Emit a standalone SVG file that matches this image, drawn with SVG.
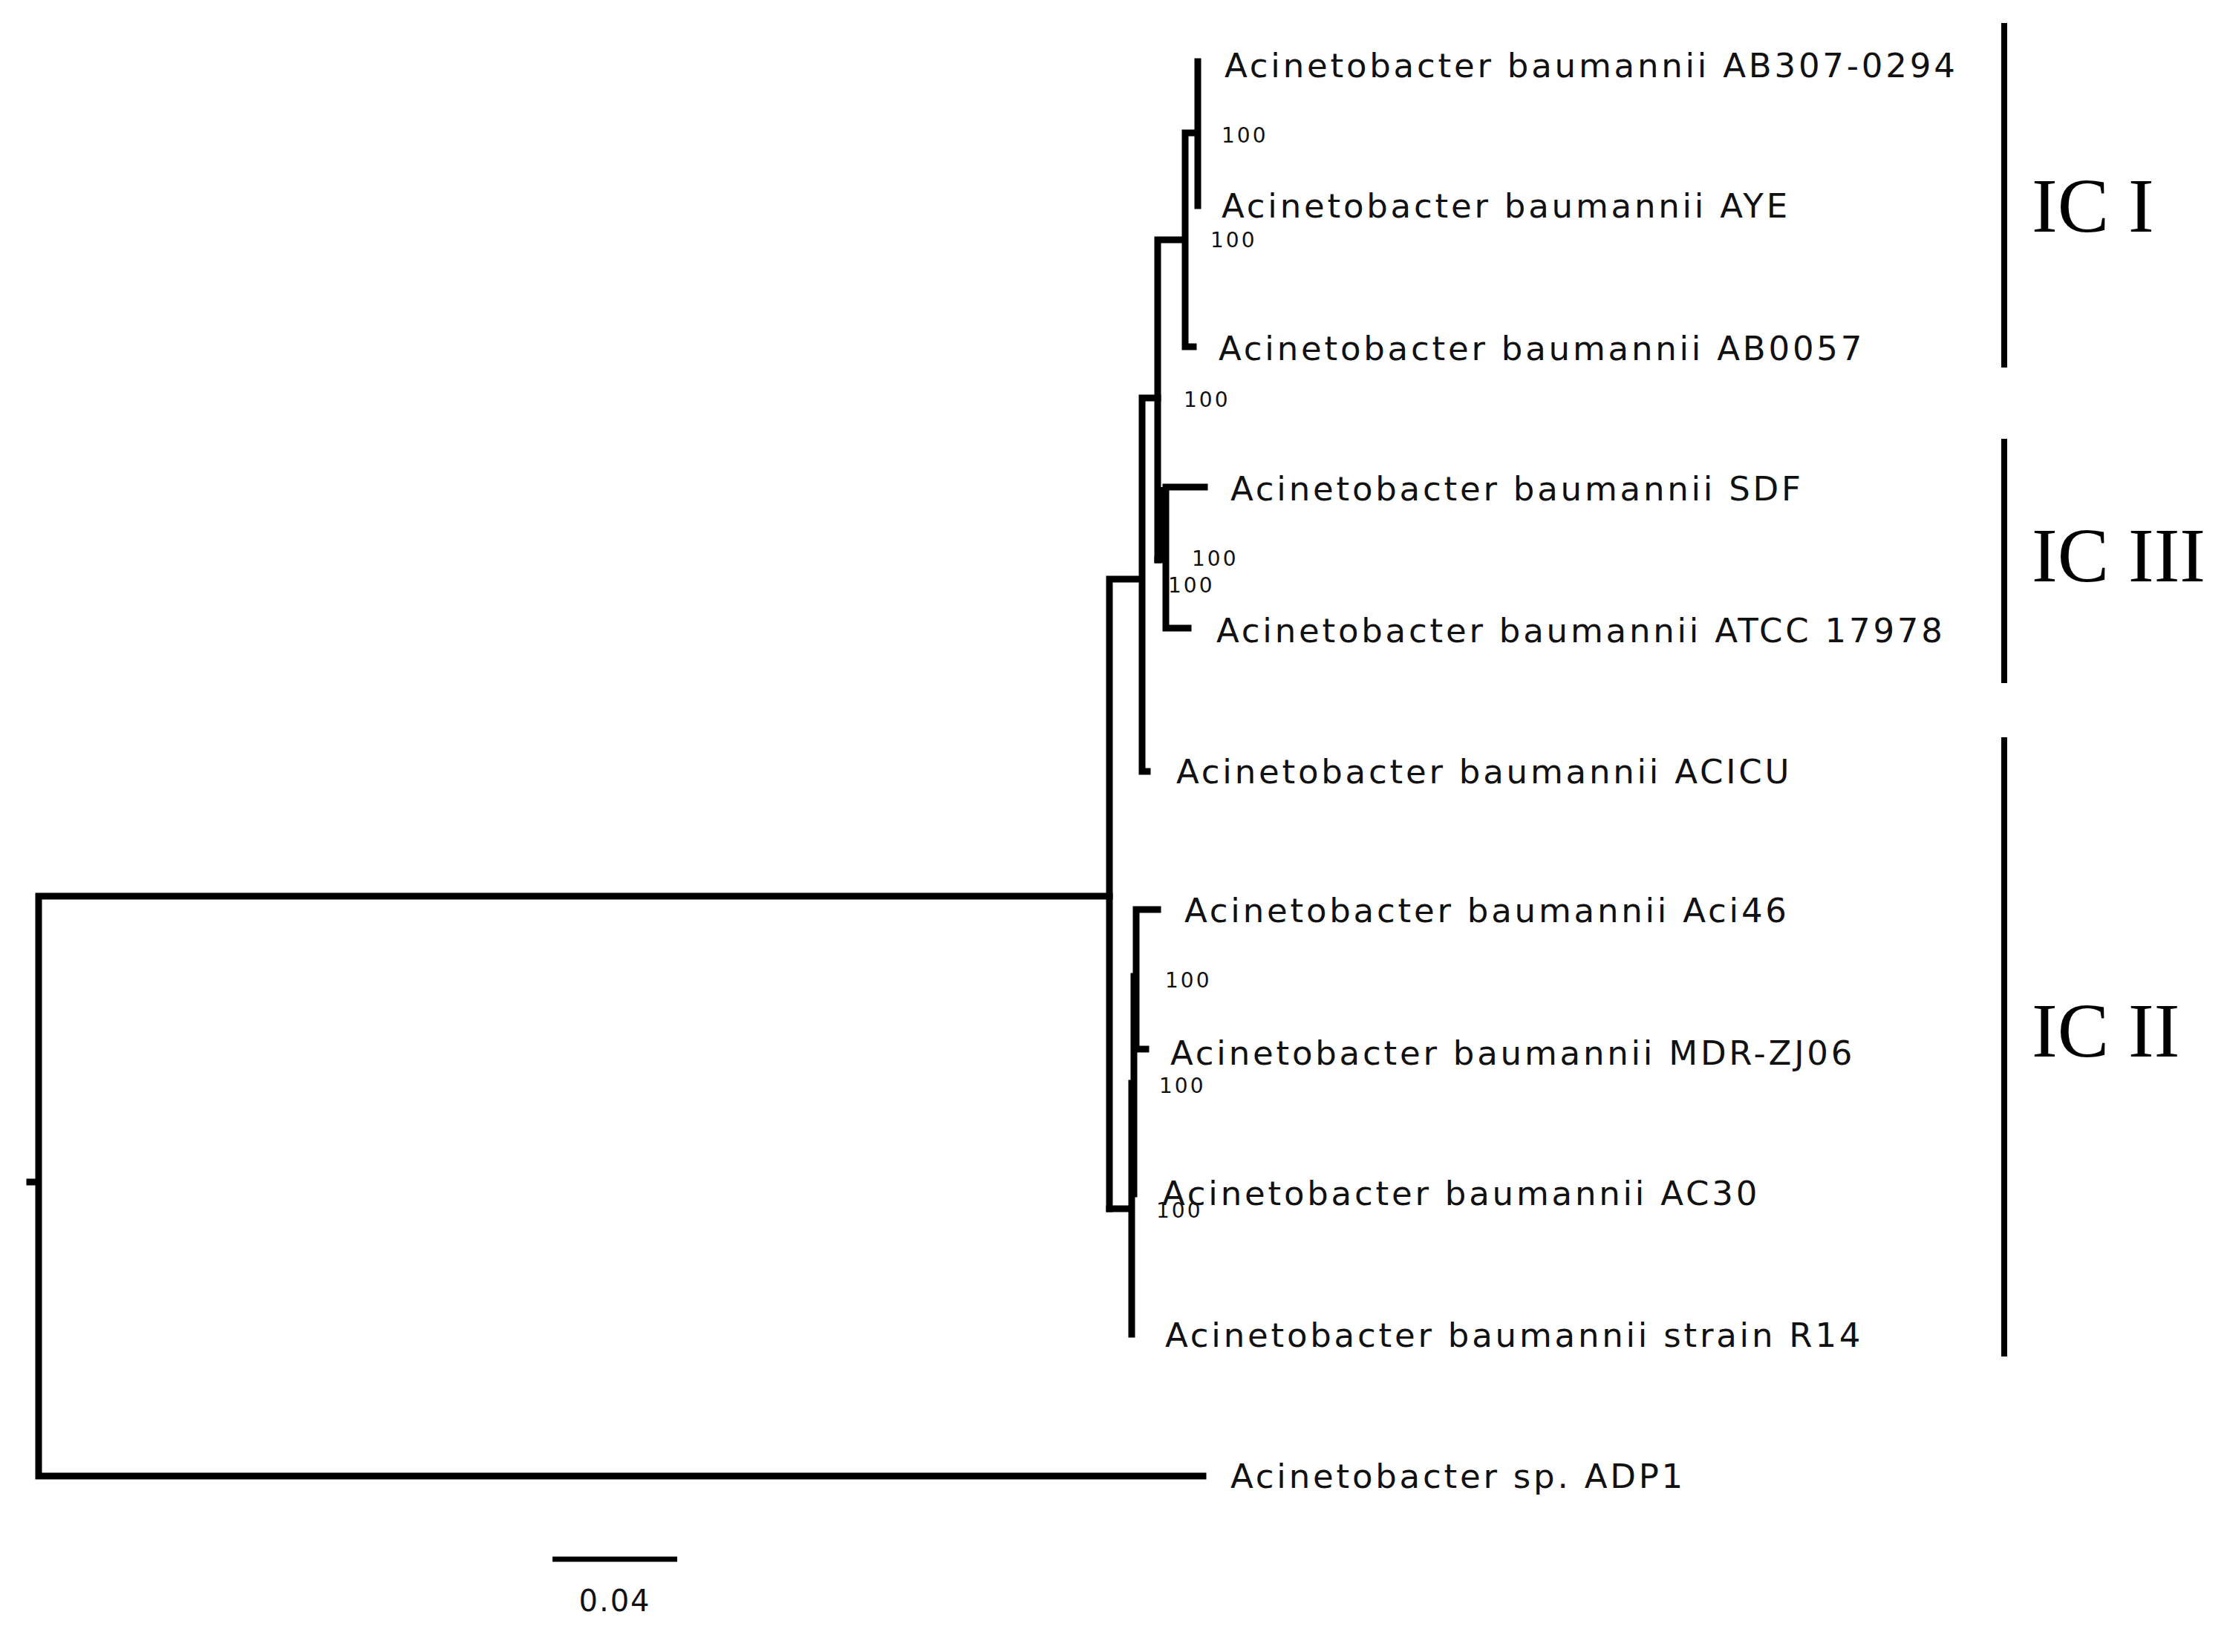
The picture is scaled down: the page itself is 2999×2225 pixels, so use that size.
<svg xmlns="http://www.w3.org/2000/svg" width="2999" height="2225" viewBox="0 0 2999 2225">
<style>
.br{stroke:#000;stroke-width:9;fill:none;stroke-linecap:square}
.lab{font-family:"DejaVu Sans",sans-serif;font-size:45px;fill:#111;letter-spacing:3.8px}
.bs{font-family:"DejaVu Sans",sans-serif;font-size:28px;fill:#111;letter-spacing:3px}
.ic{font-family:"Liberation Serif",serif;font-size:104px;fill:#000}
.bar{stroke:#000;stroke-width:8}
</style>
<rect width="2999" height="2225" fill="#fff"/>
<g id="connectors">
<path class="br" d="M52 1207V1988M40 1592H52M52 1207H1494M52 1988H1620"/>
<path class="br" d="M1494 780V1628M1494 780H1538M1538 536V1039H1545M1538 536H1559"/>
<path class="br" d="M1559 323V754M1559 323H1596M1596 179V467H1607M1596 179H1613M1613 83V277"/>
<path class="br" d="M1559 754H1570M1570 656V846M1570 656H1622M1570 846H1600"/>
<rect x="1559" y="656" width="14" height="98" fill="#000"/>
<path class="br" d="M1494 1628H1524M1524 1459V1797M1527 1315V1608M1524 1459H1527M1527 1315H1530M1530 1225V1413H1543M1530 1225H1559"/>
</g>
<g id="labels">
<text class="lab" x="1649" y="104">Acinetobacter baumannii AB307-0294</text>
<text class="lab" x="1645" y="293">Acinetobacter baumannii AYE</text>
<text class="lab" x="1641" y="485">Acinetobacter baumannii AB0057</text>
<text class="lab" x="1657" y="674">Acinetobacter baumannii SDF</text>
<text class="lab" x="1638" y="865">Acinetobacter baumannii ATCC 17978</text>
<text class="lab" x="1584" y="1055">Acinetobacter baumannii ACICU</text>
<text class="lab" x="1595" y="1242">Acinetobacter baumannii Aci46</text>
<text class="lab" x="1576" y="1434">Acinetobacter baumannii MDR-ZJ06</text>
<text class="lab" x="1565" y="1623">Acinetobacter baumannii AC30</text>
<text class="lab" x="1569" y="1814">Acinetobacter baumannii strain R14</text>
<text class="lab" x="1657" y="2004">Acinetobacter sp. ADP1</text>
</g>
<g id="bootstrap">
<text class="bs" x="1645" y="192">100</text>
<text class="bs" x="1630" y="333">100</text>
<text class="bs" x="1594" y="548">100</text>
<text class="bs" x="1605" y="762">100</text>
<text class="bs" x="1573" y="798">100</text>
<text class="bs" x="1569" y="1330">100</text>
<text class="bs" x="1561" y="1472">100</text>
<text class="bs" x="1557" y="1640">100</text>
</g>
<g id="clades">
<line class="bar" x1="2699" y1="31" x2="2699" y2="495"/>
<line class="bar" x1="2699" y1="591" x2="2699" y2="920"/>
<line class="bar" x1="2699" y1="993" x2="2699" y2="1827"/>
<text class="ic" x="2736" y="312">IC I</text>
<text class="ic" x="2736" y="783">IC III</text>
<text class="ic" x="2736" y="1423">IC II</text>
</g>
<g id="scale">
<line x1="744" y1="2100" x2="912" y2="2100" stroke="#000" stroke-width="7"/>
<text x="828" y="2170" text-anchor="middle" font-family="DejaVu Sans,sans-serif" font-size="40" letter-spacing="2" fill="#111">0.04</text>
</g>
</svg>
